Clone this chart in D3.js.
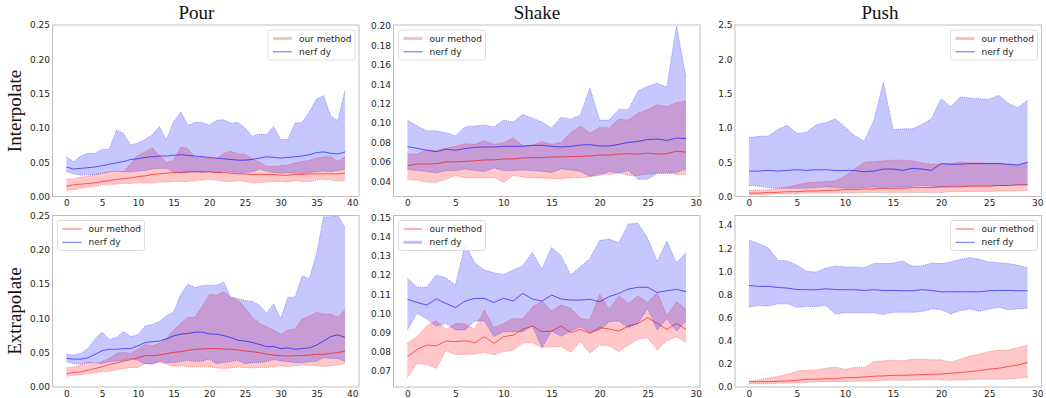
<!DOCTYPE html>
<html>
<head>
<meta charset="utf-8">
<script src="https://cdn.jsdelivr.net/npm/d3@7/dist/d3.min.js"></script>
<style>
  body { margin: 0; background: #fff; }
  text { font-family: "DejaVu Sans", sans-serif; }
</style>
</head>
<body>
<div id="chart"></div>
<script>
// task / row names
var taskNames = ["Pour", "Shake", "Push"];
var rowNames = ["Interpolate", "Extrapolate"];
var seriesNames = ["our method", "nerf dy"];

// tick labels
var pourYTicks = [0.00, 0.05, 0.10, 0.15, 0.20, 0.25];
var shakeIntYTicks = [0.04, 0.06, 0.08, 0.10, 0.12, 0.14, 0.16, 0.18, 0.20];
var pushIntYTicks = [0.0, 0.5, 1.0, 1.5, 2.0, 2.5];
var shakeExtYTicks = [0.07, 0.08, 0.09, 0.10, 0.11, 0.12, 0.13, 0.14, 0.15];
var pushExtYTicks = [0.0, 0.2, 0.4, 0.6, 0.8, 1.0, 1.2, 1.4];
var pourXTicks = [0, 5, 10, 15, 20, 25, 30, 35, 40];
var shortXTicks = [0, 5, 10, 15, 20, 25, 30];

// Pour / interpolate
var pourIntOursMean = [0.015,0.017,0.018,0.019,0.020,0.022,0.023,0.025,0.026,0.027,0.029,0.030,0.032,0.033,0.034,0.035,0.035,0.036,0.036,0.036,0.036,0.035,0.035,0.034,0.033,0.033,0.032,0.032,0.032,0.032,0.031,0.031,0.032,0.032,0.033,0.033,0.033,0.033,0.033,0.034];
var pourIntOursLow = [0.009,0.010,0.012,0.014,0.015,0.017,0.018,0.018,0.019,0.019,0.020,0.020,0.020,0.021,0.021,0.022,0.022,0.022,0.023,0.024,0.025,0.024,0.022,0.022,0.023,0.022,0.020,0.020,0.021,0.022,0.022,0.021,0.023,0.022,0.022,0.024,0.025,0.024,0.023,0.023];
var pourIntOursHigh = [0.025,0.026,0.028,0.030,0.032,0.034,0.036,0.037,0.036,0.048,0.060,0.065,0.071,0.060,0.050,0.053,0.072,0.070,0.057,0.057,0.056,0.055,0.063,0.066,0.062,0.062,0.055,0.050,0.044,0.044,0.045,0.046,0.049,0.051,0.053,0.056,0.058,0.058,0.051,0.058];
var pourIntNerfMean = [0.043,0.040,0.041,0.042,0.043,0.045,0.047,0.049,0.051,0.054,0.055,0.057,0.058,0.059,0.059,0.060,0.061,0.060,0.059,0.058,0.057,0.056,0.055,0.054,0.053,0.053,0.054,0.056,0.058,0.057,0.056,0.057,0.058,0.059,0.061,0.064,0.065,0.063,0.062,0.065];
var pourIntNerfLow = [0.036,0.033,0.031,0.032,0.032,0.034,0.036,0.037,0.036,0.036,0.037,0.038,0.040,0.041,0.041,0.036,0.034,0.035,0.036,0.035,0.036,0.035,0.037,0.036,0.035,0.035,0.036,0.040,0.037,0.035,0.034,0.035,0.034,0.033,0.035,0.036,0.037,0.036,0.038,0.039];
var pourIntNerfHigh = [0.058,0.051,0.059,0.063,0.063,0.069,0.069,0.097,0.092,0.075,0.078,0.083,0.090,0.102,0.083,0.109,0.123,0.104,0.108,0.108,0.104,0.111,0.112,0.107,0.108,0.100,0.088,0.091,0.090,0.102,0.083,0.083,0.107,0.108,0.124,0.142,0.147,0.117,0.111,0.155];

// Shake / interpolate
var shakeIntOursMean = [0.056,0.0578,0.0578,0.058,0.060,0.060,0.0605,0.061,0.062,0.062,0.063,0.063,0.064,0.0644,0.0644,0.065,0.065,0.0654,0.0657,0.066,0.067,0.067,0.068,0.0684,0.068,0.069,0.068,0.0684,0.071,0.070];
var shakeIntOursLow = [0.0417,0.0413,0.039,0.039,0.042,0.046,0.0434,0.0434,0.0434,0.044,0.039,0.046,0.0445,0.0434,0.0434,0.0427,0.0427,0.0434,0.0437,0.045,0.048,0.047,0.0486,0.046,0.046,0.047,0.0486,0.049,0.047,0.047];
var shakeIntOursHigh = [0.0677,0.068,0.0725,0.0715,0.074,0.076,0.0787,0.078,0.082,0.078,0.080,0.0845,0.077,0.077,0.081,0.078,0.080,0.090,0.097,0.0897,0.0955,0.0948,0.104,0.103,0.110,0.1137,0.119,0.117,0.121,0.123];
var shakeIntNerfMean = [0.0756,0.074,0.072,0.0705,0.073,0.072,0.0736,0.075,0.0753,0.0753,0.076,0.076,0.076,0.077,0.077,0.076,0.0753,0.076,0.0773,0.0777,0.0763,0.0763,0.078,0.080,0.081,0.083,0.0835,0.082,0.0845,0.084];
var shakeIntNerfLow = [0.0527,0.051,0.050,0.0486,0.051,0.051,0.0527,0.051,0.050,0.0537,0.051,0.051,0.0517,0.051,0.0503,0.049,0.0527,0.0517,0.050,0.045,0.046,0.050,0.0486,0.051,0.042,0.042,0.048,0.048,0.049,0.0527];
var shakeIntNerfHigh = [0.103,0.097,0.092,0.092,0.090,0.087,0.096,0.097,0.098,0.096,0.103,0.101,0.109,0.105,0.101,0.095,0.106,0.104,0.108,0.136,0.103,0.103,0.114,0.114,0.133,0.138,0.141,0.137,0.200,0.147];

// Push / interpolate
var pushIntOursMean = [0.05,0.05,0.06,0.06,0.07,0.07,0.08,0.08,0.09,0.09,0.10,0.10,0.11,0.11,0.12,0.12,0.12,0.13,0.13,0.13,0.14,0.14,0.14,0.15,0.15,0.15,0.16,0.16,0.17,0.17];
var pushIntOursLow = [0.02,0.03,0.03,0.04,0.04,0.04,0.05,0.05,0.05,0.05,0.05,0.05,0.06,0.06,0.06,0.06,0.06,0.06,0.06,0.06,0.06,0.07,0.07,0.07,0.07,0.07,0.08,0.08,0.08,0.09];
var pushIntOursHigh = [0.09,0.09,0.10,0.12,0.14,0.17,0.20,0.21,0.22,0.23,0.30,0.40,0.50,0.51,0.52,0.53,0.53,0.52,0.49,0.47,0.47,0.48,0.50,0.49,0.49,0.48,0.48,0.47,0.45,0.50];
var pushIntNerfMean = [0.37,0.37,0.38,0.37,0.38,0.39,0.38,0.39,0.39,0.38,0.38,0.38,0.36,0.37,0.40,0.40,0.38,0.41,0.40,0.38,0.48,0.47,0.47,0.48,0.48,0.48,0.48,0.47,0.46,0.50];
var pushIntNerfLow = [0.16,0.15,0.13,0.12,0.12,0.12,0.12,0.13,0.14,0.13,0.12,0.12,0.13,0.14,0.13,0.14,0.14,0.15,0.16,0.15,0.14,0.15,0.15,0.16,0.16,0.16,0.16,0.16,0.17,0.17];
var pushIntNerfHigh = [0.855,0.879,0.879,0.977,1.04,0.918,0.937,1.05,1.074,1.133,1.01,0.889,0.806,1.113,1.66,0.977,0.986,0.986,1.05,1.133,1.426,1.309,1.45,1.435,1.426,1.416,1.475,1.357,1.294,1.406];

// Pour / extrapolate
var pourExtOursMean = [0.0196,0.021,0.022,0.0245,0.027,0.0294,0.033,0.035,0.0377,0.040,0.0426,0.0456,0.0456,0.0466,0.0485,0.0505,0.0515,0.0534,0.055,0.0554,0.056,0.056,0.0554,0.055,0.054,0.0525,0.0515,0.050,0.048,0.0466,0.0456,0.045,0.0456,0.0456,0.0466,0.0475,0.0475,0.049,0.050,0.0525];
var pourExtOursLow = [0.0157,0.017,0.018,0.0196,0.021,0.022,0.023,0.0255,0.027,0.0284,0.0284,0.034,0.034,0.036,0.0333,0.030,0.031,0.030,0.0294,0.0294,0.0294,0.028,0.027,0.028,0.029,0.028,0.028,0.0284,0.0284,0.0294,0.031,0.030,0.031,0.032,0.032,0.031,0.030,0.031,0.032,0.034];
var pourExtOursHigh = [0.028,0.029,0.032,0.036,0.034,0.037,0.0417,0.049,0.0505,0.049,0.055,0.062,0.060,0.0637,0.071,0.083,0.093,0.1015,0.1015,0.1176,0.135,0.134,0.139,0.131,0.126,0.116,0.1015,0.093,0.088,0.083,0.077,0.083,0.085,0.0995,0.103,0.109,0.106,0.106,0.1015,0.113];
var pourExtNerfMean = [0.0417,0.0407,0.0407,0.0426,0.0475,0.053,0.055,0.055,0.056,0.056,0.060,0.0647,0.066,0.067,0.070,0.0745,0.077,0.078,0.080,0.080,0.0775,0.0770,0.075,0.072,0.068,0.067,0.065,0.062,0.059,0.059,0.056,0.057,0.055,0.056,0.057,0.061,0.067,0.0735,0.076,0.072];
var pourExtNerfLow = [0.037,0.034,0.033,0.0358,0.0355,0.034,0.037,0.038,0.039,0.0417,0.039,0.034,0.033,0.0377,0.0355,0.0358,0.037,0.039,0.037,0.0377,0.0407,0.034,0.0358,0.037,0.039,0.034,0.0355,0.0358,0.037,0.040,0.038,0.037,0.0355,0.0355,0.037,0.0377,0.0426,0.0417,0.0417,0.037];
var pourExtNerfHigh = [0.0475,0.0466,0.049,0.056,0.070,0.080,0.0696,0.072,0.081,0.0735,0.076,0.089,0.091,0.0956,0.104,0.109,0.135,0.150,0.145,0.148,0.1485,0.1485,0.153,0.131,0.129,0.126,0.125,0.119,0.108,0.121,0.0995,0.131,0.131,0.162,0.158,0.194,0.248,0.248,0.250,0.232];

// Shake / extrapolate
var shakeExtOursMean = [0.0773,0.0811,0.0834,0.083,0.0855,0.0852,0.0857,0.0846,0.0878,0.0843,0.0878,0.0886,0.0916,0.0934,0.0904,0.0907,0.0934,0.0899,0.0916,0.0895,0.0925,0.0918,0.0907,0.0934,0.0947,0.0977,0.0947,0.0916,0.0947,0.0916];
var shakeExtOursLow = [0.0663,0.0738,0.0733,0.0712,0.0805,0.0785,0.0785,0.0787,0.0796,0.0782,0.080,0.0808,0.0846,0.0846,0.0822,0.0825,0.0825,0.0796,0.0852,0.0791,0.0834,0.083,0.080,0.0834,0.0865,0.0872,0.0808,0.0857,0.0878,0.0848];
var shakeExtOursHigh = [0.0843,0.0878,0.0935,0.0961,0.0916,0.0947,0.0944,0.0918,0.1017,0.0925,0.0947,0.0973,0.097,0.1033,0.1064,0.1012,0.1043,0.1026,0.0973,0.0968,0.110,0.1022,0.1092,0.1052,0.109,0.1057,0.1108,0.099,0.106,0.102];
var shakeExtNerfMean = [0.1073,0.1057,0.1043,0.1075,0.1052,0.103,0.1064,0.1078,0.1078,0.1057,0.1078,0.1064,0.1104,0.1075,0.1064,0.1095,0.1075,0.1069,0.1069,0.1073,0.106,0.1087,0.1104,0.1127,0.1136,0.1136,0.1109,0.1118,0.1125,0.1113];
var shakeExtNerfLow = [0.0913,0.100,0.097,0.0934,0.0947,0.0913,0.0913,0.096,0.096,0.0878,0.0904,0.0904,0.0904,0.0934,0.082,0.0907,0.088,0.0907,0.093,0.090,0.0913,0.0956,0.096,0.0925,0.0947,0.1026,0.0913,0.0973,0.0907,0.096];
var shakeExtNerfHigh = [0.1183,0.1136,0.1136,0.120,0.1186,0.1148,0.1362,0.1264,0.1226,0.1212,0.1203,0.1226,0.1249,0.1318,0.1231,0.1345,0.130,0.120,0.1244,0.1287,0.1380,0.1388,0.1369,0.1467,0.147,0.1392,0.127,0.1378,0.1264,0.1318];

// Push / extrapolate
var pushExtOursMean = [0.046,0.046,0.046,0.049,0.052,0.058,0.067,0.067,0.072,0.072,0.081,0.081,0.087,0.093,0.096,0.101,0.101,0.104,0.107,0.11,0.113,0.119,0.125,0.133,0.142,0.154,0.162,0.177,0.191,0.212];
var pushExtOursLow = [0.029,0.029,0.029,0.032,0.032,0.035,0.038,0.043,0.046,0.046,0.046,0.049,0.052,0.052,0.058,0.058,0.058,0.058,0.061,0.064,0.061,0.058,0.061,0.064,0.067,0.067,0.067,0.067,0.075,0.081];
var pushExtOursHigh = [0.052,0.061,0.075,0.09,0.11,0.139,0.145,0.148,0.162,0.174,0.154,0.168,0.168,0.22,0.226,0.232,0.226,0.241,0.241,0.235,0.235,0.217,0.241,0.27,0.284,0.307,0.319,0.319,0.342,0.362];
var pushExtNerfMean = [0.878,0.87,0.87,0.861,0.855,0.843,0.841,0.841,0.849,0.843,0.841,0.841,0.835,0.841,0.835,0.835,0.832,0.832,0.841,0.835,0.823,0.823,0.823,0.823,0.823,0.832,0.835,0.835,0.832,0.832];
var pushExtNerfLow = [0.69,0.704,0.699,0.719,0.719,0.69,0.696,0.696,0.704,0.632,0.641,0.641,0.641,0.641,0.626,0.646,0.646,0.646,0.652,0.675,0.67,0.632,0.661,0.675,0.655,0.675,0.69,0.667,0.675,0.681];
var pushExtNerfHigh = [1.27,1.24,1.206,1.096,1.09,1.052,1.0,0.994,1.029,1.046,1.038,1.038,1.032,1.067,1.067,1.072,1.09,1.046,1.046,1.072,1.067,1.081,1.104,1.119,1.104,1.081,1.075,1.067,1.052,1.032];


// layout
var width = 1046, height = 398;
var colX = [52.5, 393.5, 735];
var rowY = [25, 215.5];
var plotW = 306.5, plotH = 171.5;
var red = "#ff0000", blue = "#0000ff";

var panels = [
  { row: 0, col: 0, xMax: 39, yDomain: [0, 0.25], yTicks: pourYTicks, yFmt: ".2f", xTicks: pourXTicks, legend: "right", light: 0,
    ours: [pourIntOursMean, pourIntOursLow, pourIntOursHigh], nerf: [pourIntNerfMean, pourIntNerfLow, pourIntNerfHigh] },
  { row: 0, col: 1, xMax: 29, yDomain: [0.0243, 0.201], yTicks: shakeIntYTicks, yFmt: ".2f", xTicks: shortXTicks, legend: "left", light: 0,
    ours: [shakeIntOursMean, shakeIntOursLow, shakeIntOursHigh], nerf: [shakeIntNerfMean, shakeIntNerfLow, shakeIntNerfHigh] },
  { row: 0, col: 2, xMax: 29, yDomain: [0, 2.5], yTicks: pushIntYTicks, yFmt: ".1f", xTicks: shortXTicks, legend: "right", light: 0,
    ours: [pushIntOursMean, pushIntOursLow, pushIntOursHigh], nerf: [pushIntNerfMean, pushIntNerfLow, pushIntNerfHigh] },
  { row: 1, col: 0, xMax: 39, yDomain: [0, 0.25], yTicks: pourYTicks, yFmt: ".2f", xTicks: pourXTicks, legend: "left", light: -1,
    ours: [pourExtOursMean, pourExtOursLow, pourExtOursHigh], nerf: [pourExtNerfMean, pourExtNerfLow, pourExtNerfHigh] },
  { row: 1, col: 1, xMax: 29, yDomain: [0.0615, 0.1511], yTicks: shakeExtYTicks, yFmt: ".2f", xTicks: shortXTicks, legend: "left", light: 1,
    ours: [shakeExtOursMean, shakeExtOursLow, shakeExtOursHigh], nerf: [shakeExtNerfMean, shakeExtNerfLow, shakeExtNerfHigh] },
  { row: 1, col: 2, xMax: 29, yDomain: [0, 1.483], yTicks: pushExtYTicks, yFmt: ".1f", xTicks: shortXTicks, legend: "right", light: -1,
    ours: [pushExtOursMean, pushExtOursLow, pushExtOursHigh], nerf: [pushExtNerfMean, pushExtNerfLow, pushExtNerfHigh] }
];

var svg = d3.select("#chart").append("svg")
  .attr("width", width)
  .attr("height", height);

//column titles
var titleX = [196.5, 537, 880];
taskNames.forEach(function (t, i) {
  svg.append("text")
    .attr("x", titleX[i])
    .attr("y", 19)
    .attr("text-anchor", "middle")
    .style("font-family", "'Liberation Serif', 'Times New Roman', serif")
    .style("font-size", "19px")
    .attr("fill", "#111")
    .text(t);
});

//row labels
var rowLabelY = [111, 311];
rowNames.forEach(function (t, i) {
  svg.append("text")
    .attr("transform", "translate(21," + rowLabelY[i] + ") rotate(-90)")
    .attr("text-anchor", "middle")
    .style("font-family", "'Liberation Serif', 'Times New Roman', serif")
    .style("font-size", "19px")
    .attr("fill", "#111")
    .text(t);
});

panels.forEach(function (p, pi) {
  var x0 = colX[p.col], y0 = rowY[p.row];
  var margin = p.xMax * 0.05;
  var x = d3.scaleLinear().domain([-margin, p.xMax + margin]).range([0, plotW]);
  var y = d3.scaleLinear().domain(p.yDomain).range([plotH, 0]);

  var g = svg.append("g").attr("transform", "translate(" + [x0, y0] + ")");

  g.append("clipPath").attr("id", "clip-" + pi)
    .append("rect").attr("width", plotW).attr("height", plotH);

  var plot = g.append("g").attr("clip-path", "url(#clip-" + pi + ")");

  var groups = [
    { vals: p.ours, color: red },
    { vals: p.nerf, color: blue }
  ];

  // bands first, red under blue
  groups.forEach(function (s) {
    var low = s.vals[1], high = s.vals[2];
    var area = d3.area()
      .x(function (d, i) { return x(i); })
      .y0(function (d, i) { return y(low[i]); })
      .y1(function (d) { return y(d); });
    plot.append("path")
      .datum(high)
      .attr("d", area)
      .attr("fill", s.color)
      .attr("fill-opacity", 0.22)
      .attr("stroke", "none");
  });

  var line = d3.line()
    .x(function (d, i) { return x(i); })
    .y(function (d) { return y(d); });

  groups.forEach(function (s) {
    [s.vals[1], s.vals[2]].forEach(function (b) {
      plot.append("path")
        .datum(b)
        .attr("d", line)
        .attr("fill", "none")
        .attr("stroke", s.color)
        .attr("stroke-opacity", 0.45)
        .attr("stroke-width", 0.8)
        .attr("stroke-dasharray", "1,1");
    });
    plot.append("path")
      .datum(s.vals[0])
      .attr("d", line)
      .attr("fill", "none")
      .attr("stroke", s.color)
      .attr("stroke-opacity", 0.6)
      .attr("stroke-width", 1);
  });

  // frame
  g.append("rect")
    .attr("width", plotW)
    .attr("height", plotH)
    .attr("fill", "none")
    .attr("stroke", "#bfbfbf")
    .attr("stroke-width", 1);

  // axes (labels only, no tick marks)
  var fmt = d3.format(p.yFmt);
  var yAxis = g.append("g")
    .call(d3.axisLeft(y).tickValues(p.yTicks).tickFormat(fmt).tickSize(0).tickPadding(2.5));
  var xAxis = g.append("g")
    .attr("transform", "translate(0," + plotH + ")")
    .call(d3.axisBottom(x).tickValues(p.xTicks).tickSize(0).tickPadding(3.5));
  [xAxis, yAxis].forEach(function (a) {
    a.select(".domain").remove();
    a.selectAll("text")
      .style("font-family", "'DejaVu Sans', sans-serif")
      .style("font-size", "9px")
      .attr("fill", "#262626");
  });

  // legend
  var lw = 87, lh = 30;
  var lx = p.legend === "right" ? plotW - lw - 4 : 5;
  var leg = g.append("g").attr("transform", "translate(" + [lx, 5] + ")");
  leg.append("rect")
    .attr("width", lw)
    .attr("height", lh)
    .attr("rx", 2.5)
    .attr("fill", "#fff")
    .attr("fill-opacity", 0.85)
    .attr("stroke", "#d6d6d6")
    .attr("stroke-width", 0.8);
  seriesNames.forEach(function (name, i) {
    var ly = 8.5 + i * 13.3;
    var isLight = p.light === i;
    leg.append("line")
      .attr("x1", 5).attr("x2", 24)
      .attr("y1", ly).attr("y2", ly)
      .attr("stroke", i === 0 ? red : blue)
      .attr("stroke-opacity", isLight ? 0.25 : 0.6)
      .attr("stroke-width", isLight ? 3 : 1);
    leg.append("text")
      .attr("x", 31)
      .attr("y", ly)
      .attr("dy", "0.35em")
      .style("font-size", "9px")
      .attr("fill", "#262626")
      .text(name);
  });
});
</script>
</body>
</html>
